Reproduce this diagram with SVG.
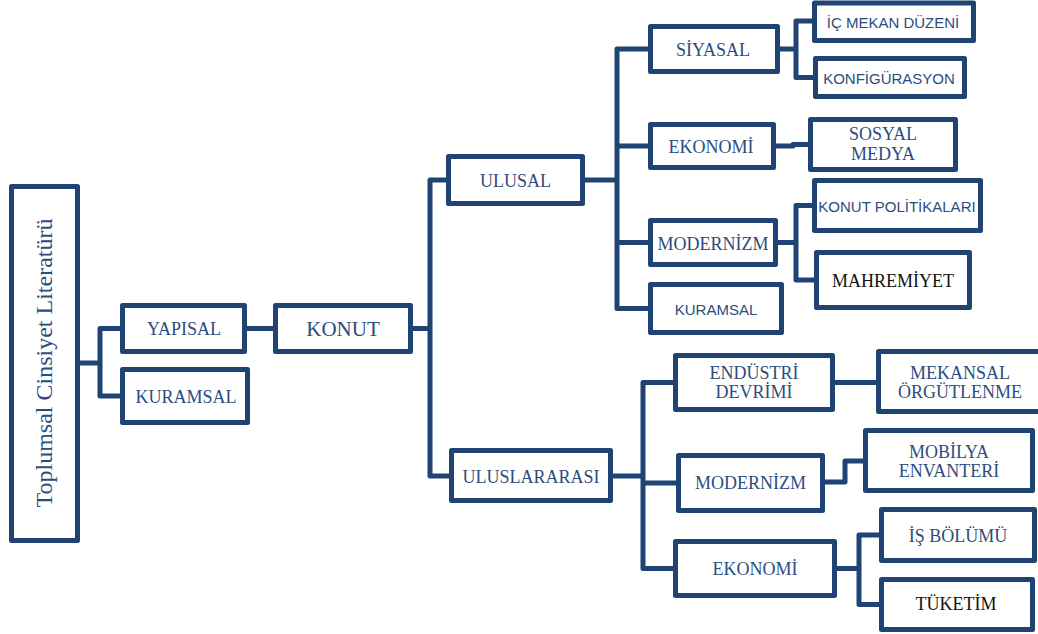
<svg xmlns="http://www.w3.org/2000/svg" width="1038" height="634" viewBox="0 0 1038 634">
<style>
.box{fill:#fff;stroke:#1f4373;stroke-width:5;stroke-linejoin:round}
.conn path{fill:none;stroke:#1f4373;stroke-width:5;stroke-linejoin:round}
text{text-anchor:middle;fill:#2c4c7e}
.s{font-family:"Liberation Serif","Times New Roman",serif;font-size:18px}
.ss{font-family:"Liberation Sans",Arial,sans-serif;font-size:15px}
.k{fill:#111}
</style>
<rect width="1038" height="634" fill="#fff"/>
<g class="conn">
<path d="M78 363H100"/>
<path d="M122 328.5H100V396H122"/>
<path d="M247 328.5H275"/>
<path d="M413 328.5H430"/>
<path d="M448 180H430V476H451"/>
<path d="M585 180H617"/>
<path d="M650 49H617V308.5H650"/>
<path d="M617 146H650"/>
<path d="M617 242.5H650"/>
<path d="M780 49H796"/>
<path d="M814 21H796V77.5H815"/>
<path d="M776 146H793V144.5H810"/>
<path d="M778 242.5H796"/>
<path d="M814 205.5H796V280H816"/>
<path d="M613 476H643"/>
<path d="M675 382.5H643V568.5H675"/>
<path d="M643 483H678"/>
<path d="M835 382.5H878"/>
<path d="M825 482H845V461H865"/>
<path d="M837 568.5H859"/>
<path d="M881 535H859V604.5H881"/>
</g>
<g id="root"><rect class="box" x="11.5" y="186.5" width="66" height="354"/><text class="s" style="font-size:24px" transform="translate(52,363) rotate(-90)">Toplumsal Cinsiyet Literatürü</text></g>
<g id="yapisal"><rect class="box" x="122.5" y="305.5" width="122" height="46"/><text class="s" x="184" y="335">YAPISAL</text></g>
<g id="kuramsal1"><rect class="box" x="122.5" y="369.5" width="125" height="53"/><text class="s" x="186" y="402.5">KURAMSAL</text></g>
<g id="konut"><rect class="box" x="275.5" y="305.5" width="135" height="46"/><text class="s" style="font-size:21px" x="343" y="335.5">KONUT</text></g>
<g id="ulusal"><rect class="box" x="448.5" y="156.5" width="134" height="47"/><text class="s" x="515.5" y="186.5">ULUSAL</text></g>
<g id="uluslararasi"><rect class="box" x="451.5" y="450.5" width="159" height="50"/><text class="s" x="531" y="482.5">ULUSLARARASI</text></g>
<g id="siyasal"><rect class="box" x="650.5" y="26.5" width="127" height="45"/><text class="s" x="713" y="55.5">SİYASAL</text></g>
<g id="ekonomi1"><rect class="box" x="650.5" y="124.5" width="123" height="43"/><text class="s" x="711" y="152.5">EKONOMİ</text></g>
<g id="modernizm1"><rect class="box" x="650.5" y="220.5" width="125" height="44"/><text class="s" x="713" y="249.5">MODERNİZM</text></g>
<g id="kuramsal2"><rect class="box" x="650.5" y="284.5" width="131" height="48"/><text class="ss" x="716" y="315">KURAMSAL</text></g>
<g id="icmekan"><rect class="box" x="814.5" y="3" width="159" height="37.5"/><text class="ss" x="893" y="27.5">İÇ MEKAN DÜZENİ</text></g>
<g id="konfig"><rect class="box" x="815.5" y="58.5" width="149" height="38"/><text class="ss" x="889" y="83.5">KONFİGÜRASYON</text></g>
<g id="sosyal"><rect class="box" x="810.5" y="119.5" width="145" height="50"/><text class="s" x="883" y="140">SOSYAL</text><text class="s" x="883" y="160">MEDYA</text></g>
<g id="politika"><rect class="box" x="814.5" y="180.5" width="166" height="50"/><text class="ss" x="897" y="211.5">KONUT POLİTİKALARI</text></g>
<g id="mahremiyet"><rect class="box" x="816.5" y="252.5" width="153" height="55"/><text class="s k" x="893" y="286.5">MAHREMİYET</text></g>
<g id="endustri"><rect class="box" x="675.5" y="355.5" width="157" height="54"/><text class="s" x="754" y="378.5">ENDÜSTRİ</text><text class="s" x="754" y="398">DEVRİMİ</text></g>
<g id="modernizm2"><rect class="box" x="678.5" y="455.5" width="144" height="55"/><text class="s" x="750.5" y="488.5">MODERNİZM</text></g>
<g id="ekonomi2"><rect class="box" x="675.5" y="541.5" width="159" height="54"/><text class="s" x="755" y="575">EKONOMİ</text></g>
<g id="mekansal"><rect class="box" x="878.5" y="351.5" width="165" height="60"/><text class="s" x="960" y="378.5">MEKANSAL</text><text class="s" x="960" y="398">ÖRGÜTLENME</text></g>
<g id="mobilya"><rect class="box" x="865.5" y="430.5" width="167" height="60"/><text class="s" x="949" y="457.5">MOBİLYA</text><text class="s" x="949" y="476.5">ENVANTERİ</text></g>
<g id="isbolumu"><rect class="box" x="881.5" y="509.5" width="153" height="51"/><text class="s" x="958" y="541.5">İŞ BÖLÜMÜ</text></g>
<g id="tuketim"><rect class="box" x="881.5" y="579.5" width="151" height="50"/><text class="s k" x="956" y="610">TÜKETİM</text></g>
</svg>
